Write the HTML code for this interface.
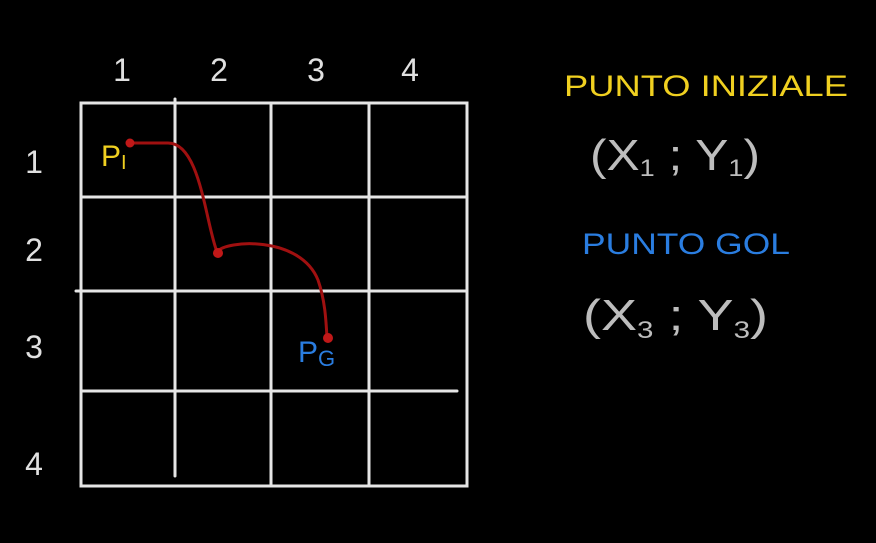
<!DOCTYPE html>
<html><head><meta charset="utf-8"><style>
html,body{margin:0;padding:0;background:#000;width:876px;height:543px;overflow:hidden}
svg{display:block}
text{font-family:"Liberation Sans",sans-serif}
</style></head><body>
<svg id="c" width="876" height="543" viewBox="0 0 876 543">
<rect width="876" height="543" fill="#000"/>
<g id="grid" stroke="#e6e6e6" stroke-width="3" fill="none" stroke-linecap="round">
<rect x="81" y="103" width="386" height="383"/>
<line x1="175" y1="99" x2="175" y2="476"/>
<line x1="271" y1="103" x2="271" y2="486"/>
<line x1="369" y1="103" x2="369" y2="486"/>
<line x1="81" y1="197" x2="467" y2="197"/>
<line x1="76" y1="291" x2="467" y2="291"/>
<line x1="81" y1="391" x2="457" y2="391"/>
</g>
<g fill="#e0e0e0" font-size="32" text-anchor="middle">
<text x="122" y="81">1</text>
<text x="219" y="81">2</text>
<text x="316" y="81">3</text>
<text x="410" y="81">4</text>
<text x="34" y="173">1</text>
<text x="34" y="261">2</text>
<text x="34" y="358">3</text>
<text x="34" y="475">4</text>
</g>
<path d="M130,143 L168,143 C200,143 205,220 217,252 C225,240 300,235 318,280 C325,300 326,320 327,338" stroke="#a01010" stroke-width="3" fill="none"/>
<circle cx="130" cy="143" r="4.5" fill="#c01818"/>
<circle cx="218" cy="253" r="5" fill="#c01818"/>
<circle cx="328" cy="338" r="5" fill="#c01818"/>
<text x="101" y="166" fill="#f0d020" font-size="30">P<tspan font-size="20" dy="3">I</tspan></text>
<text x="298" y="362" fill="#2a7de0" font-size="30">P<tspan font-size="22" dy="4">G</tspan></text>
<text x="564" y="96" fill="#f0d020" font-size="30" textLength="284" lengthAdjust="spacingAndGlyphs">PUNTO INIZIALE</text>
<text x="590" y="170" fill="#bdbdbd" font-size="44" textLength="170" lengthAdjust="spacingAndGlyphs">(X<tspan font-size="24" dy="6">1</tspan><tspan dy="-6"> ; Y</tspan><tspan font-size="24" dy="6">1</tspan><tspan dy="-6">)</tspan></text>
<text x="582" y="254" fill="#2a7de0" font-size="30" textLength="208" lengthAdjust="spacingAndGlyphs">PUNTO GOL</text>
<text x="583" y="330" fill="#bdbdbd" font-size="44" textLength="185" lengthAdjust="spacingAndGlyphs">(X<tspan font-size="24" dy="8">3</tspan><tspan dy="-8"> ; Y</tspan><tspan font-size="24" dy="8">3</tspan><tspan dy="-8">)</tspan></text>
</svg>
</body></html>
